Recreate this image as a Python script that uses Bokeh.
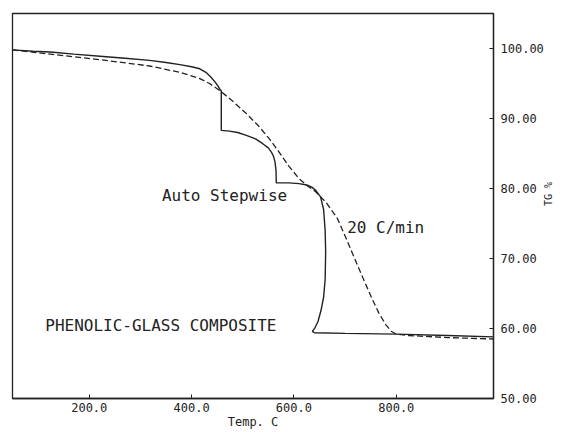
import math
from bokeh.plotting import figure
from bokeh.models import FixedTicker, PrintfTickFormatter, Range1d
from bokeh.core.properties import value
from bokeh.embed import file_html
from bokeh.resources import INLINE

# Auto stepwise TG curve (temperature C, TG %)
step_temp = [50, 90, 124, 170, 221, 270, 318, 350, 377, 400, 416, 428, 438, 446, 452, 456, 458,
             458, 474, 490, 507, 525, 539, 550, 556, 560, 563, 565, 565.5,
             590, 610, 625, 635, 643, 652, 658, 661, 662, 661,
             658, 653, 647, 641, 636, 640, 700, 800, 900, 990]
step_tg = [99.8, 99.6, 99.5, 99.2, 98.9, 98.6, 98.3, 98.0, 97.7, 97.4, 97.1, 96.6, 95.9, 95.2, 94.6, 94.1, 94.0,
           88.3, 88.2, 88.0, 87.6, 87.1, 86.4, 85.8, 85.2, 84.6, 83.8, 82.6, 80.8,
           80.8, 80.7, 80.5, 80.2, 79.7, 78.8, 77.0, 74.0, 71.0, 67.0,
           64.5, 62.6, 61.0, 60.1, 59.6, 59.4, 59.3, 59.2, 59.0, 58.8]

# 20 C/min dynamic TG curve
ramp_temp = [50, 124, 221, 318, 377, 416, 435, 455, 480, 507, 530, 552, 571, 590, 610, 628, 643,
             663, 685, 700, 714, 735, 753, 766, 779, 790, 800, 824, 900, 990]
ramp_tg = [99.8, 99.2, 98.4, 97.5, 96.6, 95.7, 95.0, 94.0, 92.5, 90.7, 89.0, 87.1, 85.2, 83.2, 81.4, 80.3, 79.5,
           78.0, 75.7, 73.2, 70.8, 67.2, 64.2, 62.2, 60.6, 59.6, 59.2, 59.0, 58.7, 58.5]

x_ticks = [200, 400, 600, 800]
y_ticks = [50, 60, 70, 80, 90, 100]

FONT = "DejaVu Sans Mono"
INK = "#222222"

p = figure(width=562, height=432, output_backend="svg", toolbar_location=None,
           x_range=Range1d(50, 990), y_range=Range1d(50, 105),
           y_axis_location="right", min_border_left=12, min_border_top=13,
           min_border_right=69, min_border_bottom=34)

p.line(step_temp, step_tg, line_color=INK, line_width=1.4)
p.line(ramp_temp, ramp_tg, line_color=INK, line_width=1.3, line_dash="6 3")

p.text(x=[342], y=[79.0], text=["Auto Stepwise"], text_font=value(FONT),
       text_font_size="16px", text_color=INK, text_baseline="middle", text_align="left")
p.text(x=[704], y=[74.4], text=["20 C/min"], text_font=value(FONT),
       text_font_size="16px", text_color=INK, text_baseline="middle", text_align="left")
p.text(x=[114], y=[60.5], text=["PHENOLIC-GLASS COMPOSITE"], text_font=value(FONT),
       text_font_size="16px", text_color=INK, text_baseline="middle", text_align="left")

p.grid.visible = False
p.outline_line_color = INK
p.outline_line_width = 1.3
p.background_fill_color = "white"
p.border_fill_color = "white"

xa = p.xaxis[0]
xa.ticker = FixedTicker(ticks=x_ticks)
xa.formatter = PrintfTickFormatter(format="%.1f")
xa.axis_label = "Temp. C"
ya = p.yaxis[0]
ya.ticker = FixedTicker(ticks=y_ticks)
ya.formatter = PrintfTickFormatter(format="%.2f")
ya.axis_label = "TG %"
ya.axis_label_orientation = math.pi / 2

for ax in (xa, ya):
    ax.major_tick_in = 4
    ax.major_tick_out = 0
    ax.minor_tick_in = 0
    ax.minor_tick_out = 0
    ax.axis_line_color = INK
    ax.axis_line_width = 1.3
    ax.major_tick_line_color = INK
    ax.major_label_text_font = FONT
    ax.major_label_text_font_size = "12px"
    ax.major_label_text_color = INK
    ax.axis_label_text_font = FONT
    ax.axis_label_text_font_style = "normal"
    ax.axis_label_text_color = INK

xa.major_label_standoff = 4
xa.axis_label_standoff = 0
xa.axis_label_text_font_size = "12px"
ya.major_label_standoff = 7
ya.axis_label_standoff = 2
ya.axis_label_text_font_size = "10px"

open("out.html", "w").write(file_html(p, INLINE))
